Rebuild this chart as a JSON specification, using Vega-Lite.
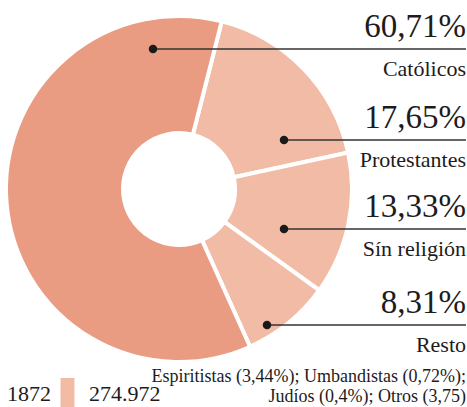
{
  "$schema": "https://vega.github.io/schema/vega-lite/v6.json",
  "width": 358,
  "height": 378,
  "autosize": {"type": "none"},
  "padding": {"left": 0, "top": 0, "right": 109, "bottom": 29},
  "background": "white",
  "config": {"view": {"stroke": null}, "font": "Liberation Serif"},
  "data": {
    "values": [
      {"religion": "Protestantes", "pct": 17.65, "ord": 1, "label": "17,65%", "note": ""},
      {"religion": "Sín religión", "pct": 13.33, "ord": 2, "label": "13,33%", "note": ""},
      {"religion": "Resto", "pct": 8.31, "ord": 3, "label": "8,31%", "note": ["Espiritistas (3,44%); Umbandistas (0,72%);", "Judíos (0,4%); Otros (3,75)"]},
      {"religion": "Católicos", "pct": 60.71, "ord": 4, "label": "60,71%", "note": ""}
    ]
  },
  "layer": [
    {
      "mark": {"type": "arc", "outerRadius": 173, "innerRadius": 56, "stroke": "white", "strokeWidth": 4},
      "encoding": {
        "theta": {"field": "pct", "type": "quantitative", "stack": true, "scale": {"range": [0.2496, 6.5328]}},
        "order": {"field": "ord", "type": "quantitative"},
        "color": {
          "field": "religion", "type": "nominal",
          "scale": {"domain": ["Católicos", "Protestantes", "Sín religión", "Resto"], "range": ["#EA9C83", "#F2BBA6", "#F2BBA6", "#F2BBA6"]},
          "legend": null
        }
      }
    },
    {
      "mark": {"type": "rule", "color": "#333333", "strokeWidth": 1.5},
      "encoding": {
        "x": {"field": "pct", "type": "quantitative", "axis": null, "scale": {"domain": [8.31, 13.33, 17.65, 60.71, 100], "range": [267, 284, 284, 153, 466], "zero": false, "nice": false}},
        "x2": {"datum": 100},
        "y": {"field": "pct", "type": "quantitative", "axis": null, "scale": {"domain": [8.31, 13.33, 17.65, 60.71], "range": [325, 229, 140, 49], "zero": false, "nice": false}}
      }
    },
    {
      "mark": {"type": "point", "filled": true, "color": "#1a1a1a", "size": 72, "opacity": 1},
      "encoding": {
        "x": {"field": "pct", "type": "quantitative"},
        "y": {"field": "pct", "type": "quantitative"}
      }
    },
    {
      "mark": {"type": "text", "align": "right", "baseline": "alphabetic", "dy": -12, "fontSize": 33, "color": "#1e1b1c", "font": "Liberation Serif"},
      "encoding": {
        "x": {"datum": 100},
        "y": {"field": "pct", "type": "quantitative"},
        "text": {"field": "label", "type": "nominal"}
      }
    },
    {
      "mark": {"type": "text", "align": "right", "baseline": "alphabetic", "dy": 27, "fontSize": 22, "color": "#1e1b1c", "font": "Liberation Serif"},
      "encoding": {
        "x": {"datum": 100},
        "y": {"field": "pct", "type": "quantitative"},
        "text": {"field": "religion", "type": "nominal"}
      }
    },
    {
      "mark": {"type": "text", "align": "right", "baseline": "alphabetic", "dy": 57, "fontSize": 18, "lineHeight": 20, "color": "#1e1b1c", "font": "Liberation Serif"},
      "encoding": {
        "x": {"datum": 100},
        "y": {"field": "pct", "type": "quantitative"},
        "text": {"field": "note", "type": "nominal"}
      }
    },
    {
      "data": {"values": [{"year": "1872", "total": "274.972"}]},
      "mark": {"type": "square", "opacity": 0},
      "encoding": {
        "fill": {
          "field": "total", "type": "nominal",
          "scale": {"range": ["#F2BBA6"]},
          "legend": {
            "title": "1872", "orient": "none", "legendX": 7, "legendY": 378,
            "titleOrient": "left", "titleFontSize": 22, "titleFontWeight": "normal", "titleColor": "#1e1b1c",
            "titleFont": "Liberation Serif", "titlePadding": 1,
            "labelFont": "Liberation Serif", "labelFontSize": 22, "labelColor": "#1e1b1c", "labelOffset": 6,
            "symbolType": "M-0.45,-1H0.45V1H-0.45Z", "symbolSize": 961, "symbolStrokeWidth": 0, "symbolOpacity": 1,
            "padding": 0
          }
        }
      }
    }
  ]
}
